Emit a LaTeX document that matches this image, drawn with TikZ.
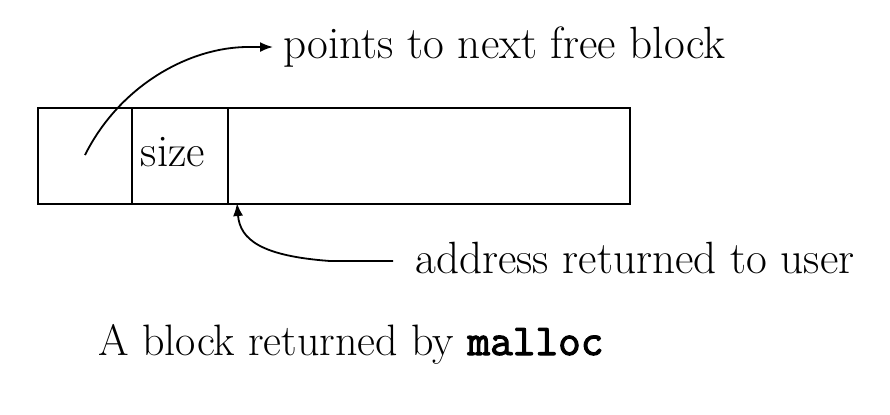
\documentclass[tikz,border=0pt]{standalone}
\usepackage{fontspec}
\newfontfamily\ttbold{Latin Modern Mono}[FakeBold=2.5]
\usetikzlibrary{arrows.meta}
\tikzset{
  cell/.style={draw, line width=0.9pt, rectangle, inner sep=0pt, minimum height=48pt, anchor=north west},
  lbl/.style={inner sep=0pt, anchor=base west, font=\fontsize{22.6}{26}\selectfont},
  conn/.style={line width=0.9pt, -{Latex[length=6.5pt,width=5pt]}}
}
\begin{document}
\begin{tikzpicture}[x=0.5pt,y=-0.5pt]
\useasboundingbox (0,0) rectangle (890,414);
\node[cell, minimum width=47pt] (c1) at (37,107) {};
\node[cell, minimum width=48pt] (c2) at (131,107) {};
\node[cell, minimum width=201pt] (c3) at (227,107) {};
\node[lbl, anchor=base] (size) at (173,166) {size};
\node[lbl] (pts) at (283,58) {points to next free block};
\node[lbl] (addr) at (415,273) {address returned to user};
\node[lbl, font=\fontsize{22}{26}\selectfont] (cap) at (98,355) {A block returned by {\ttbold malloc}};
\coordinate (s1) at (85,155);
\coordinate (t1) at (273,47);
\coordinate (s2) at (393,261);
\coordinate (t2) at (237,203);
\draw[conn] (s1) .. controls (120,85) and (190,47) .. (248,47) -- (t1);
\draw[conn] (s2) -- (330,261) .. controls (262,256) and (240,240) .. (t2);
\end{tikzpicture}
\end{document}
